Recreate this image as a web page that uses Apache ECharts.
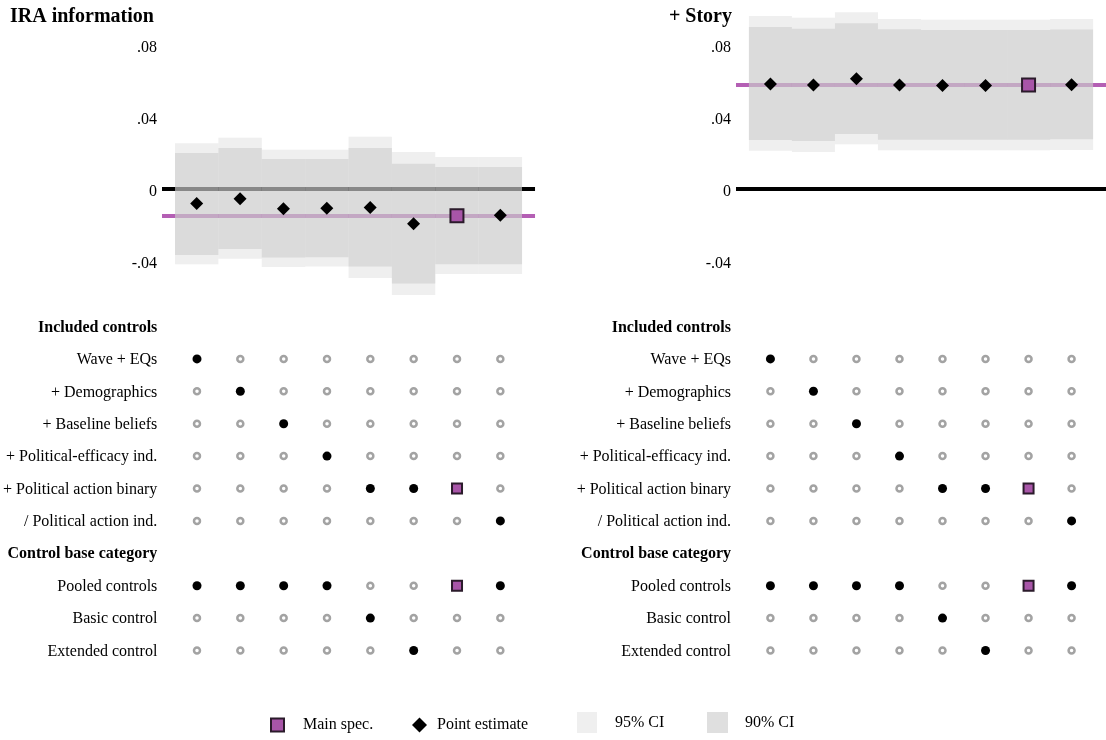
<!DOCTYPE html>
<html><head><meta charset="utf-8">
<script src="https://cdn.jsdelivr.net/npm/echarts@6/dist/echarts.min.js"></script>
<style>html,body{margin:0;padding:0;background:#fff}#c{width:1106px;height:740px}</style>
</head><body><div id="c"></div>
<script>
// ---------- DATA ----------
const panelTitles = ['IRA information', '+ Story'];
const specIndex = [0, 1, 2, 3, 4, 5, 6, 7];
const mainSpec = 6;

const estIRA   = [-0.0081, -0.0054, -0.0109, -0.0107, -0.0103, -0.0192, -0.0148, -0.0146];
const ci95loIRA = [-0.0417, -0.0386, -0.0432, -0.0430, -0.0493, -0.0587, -0.0471, -0.0471];
const ci90loIRA = [-0.0366, -0.0332, -0.0380, -0.0378, -0.0430, -0.0523, -0.0417, -0.0417];
const ci90hiIRA = [0.0199, 0.0227, 0.0166, 0.0166, 0.0227, 0.0140, 0.0122, 0.0122];
const ci95hiIRA = [0.0253, 0.0284, 0.0218, 0.0218, 0.0290, 0.0205, 0.0177, 0.0177];

const estStory   = [0.0582, 0.0576, 0.0611, 0.0576, 0.0574, 0.0574, 0.0576, 0.0578];
const ci95loStory = [0.0212, 0.0205, 0.0248, 0.0214, 0.0214, 0.0214, 0.0214, 0.0216];
const ci90loStory = [0.0271, 0.0266, 0.0305, 0.0273, 0.0273, 0.0273, 0.0273, 0.0275];
const ci90hiStory = [0.0898, 0.0888, 0.0918, 0.0885, 0.0881, 0.0881, 0.0881, 0.0883];
const ci95hiStory = [0.0958, 0.0949, 0.0979, 0.0942, 0.0938, 0.0938, 0.0938, 0.0942];

const yTickValues = [0.08, 0.04, 0, -0.04];
const yTickLabels = ['.08', '.04', '0', '-.04'];

const headerControls = 'Included controls';
const controlRows = ['Wave + EQs', '+ Demographics', '+ Baseline beliefs', '+ Political-efficacy ind.', '+ Political action binary', '/ Political action ind.'];
const headerBase = 'Control base category';
const baseRows = ['Pooled controls', 'Basic control', 'Extended control'];
// which "included controls" row is marked for each specification
const specControlRow = [0, 1, 2, 3, 4, 4, 4, 5];
// which "control base category" row is marked for each specification
const specBaseRow = [0, 0, 0, 0, 1, 2, 0, 0];

const legendNames = ['Main spec.', 'Point estimate', '95% CI', '90% CI'];

// ---------- BUILD ----------
const FONT = 'Liberation Serif, Times New Roman, serif';
const panels = [
  {est: estIRA, lo95: ci95loIRA, lo90: ci90loIRA, hi90: ci90hiIRA, hi95: ci95hiIRA},
  {est: estStory, lo95: ci95loStory, lo90: ci90loStory, hi90: ci90hiStory, hi95: ci95hiStory}
];
const gridLefts = [162, 736];
const colW = 43.375;
const gridW = 8.6 * colW;
const X_MIN = -0.8, X_MAX = 7.8;

const rows = [headerControls].concat(controlRows, [headerBase], baseRows);
const controlOffset = 1, baseOffset = controlRows.length + 2;

const grids = [], xAxes = [], yAxes = [], series = [];

function bandRenderer(fill) {
  return function (params, api) {
    const x = api.value(0), lo = api.value(1), hi = api.value(2);
    const p1 = api.coord([x - 0.5, hi]);
    const p2 = api.coord([x + 0.5, lo]);
    return {type: 'rect', shape: {x: p1[0], y: p1[1], width: p2[0] - p1[0], height: p2[1] - p1[1]}, style: {fill: fill}};
  };
}

panels.forEach((pd, p) => {
  grids.push({left: gridLefts[p], top: 8.5, width: gridW, height: 288.8});
  xAxes.push({type: 'value', gridIndex: p, min: X_MIN, max: X_MAX, show: false});
  yAxes.push({
    type: 'value', gridIndex: p, min: -0.06, max: 0.1, interval: 0.02,
    axisLine: {show: false}, axisTick: {show: false}, splitLine: {show: false},
    axisLabel: {
      margin: 5, fontSize: 16, fontFamily: FONT, color: '#000',
      verticalAlign: 'top', lineHeight: 6,
      formatter: v => {
        const k = yTickValues.findIndex(t => Math.abs(t - v) < 1e-9);
        return k >= 0 ? yTickLabels[k] : '';
      }
    }
  });
  const mainVal = pd.est[mainSpec];
  series.push({
    type: 'line', name: 'ref' + p, xAxisIndex: p, yAxisIndex: p, data: [], z: 1, silent: true,
    markLine: {
      z: 1, silent: true, symbol: 'none', label: {show: false}, animation: false, precision: 6,
      data: [
        {yAxis: 0, lineStyle: {color: '#000', width: 4, type: 'solid'}},
        {yAxis: mainVal, lineStyle: {color: '#b45fb4', width: 4, type: 'solid'}}
      ]
    }
  });
  series.push({
    type: 'custom', name: '95% CI', xAxisIndex: p, yAxisIndex: p, z: 10, silent: true,
    renderItem: bandRenderer('rgba(203,203,203,0.308)'),
    encode: {x: 0, y: [1, 2]},
    itemStyle: {color: '#efefef'},
    data: specIndex.map(i => [i, pd.lo95[i], pd.hi95[i]])
  });
  series.push({
    type: 'custom', name: '90% CI', xAxisIndex: p, yAxisIndex: p, z: 11, silent: true,
    renderItem: bandRenderer('rgba(203,203,203,0.528)'),
    encode: {x: 0, y: [1, 2]},
    itemStyle: {color: '#dedede'},
    data: specIndex.map(i => [i, pd.lo90[i], pd.hi90[i]])
  });
});

// main spec squares first (legend takes style from first series with the name)
panels.forEach((pd, p) => {
  series.push({
    type: 'scatter', name: 'Main spec.', xAxisIndex: p, yAxisIndex: p, z: 21,
    symbol: 'rect', symbolSize: 13,
    itemStyle: {color: '#a855a8', borderColor: '#2b1b2b', borderWidth: 2, opacity: 1},
    data: [[mainSpec, pd.est[mainSpec]]]
  });
  series.push({
    type: 'scatter', name: 'Point estimate', xAxisIndex: p, yAxisIndex: p, z: 20,
    symbol: 'diamond', symbolSize: 13,
    itemStyle: {color: '#000', opacity: 1},
    data: specIndex.filter(i => i !== mainSpec).map(i => [i, pd.est[i]])
  });
});

// specification matrix
[0, 1].forEach(p => {
  const g = 2 + p;
  grids.push({left: gridLefts[p], top: 310.3, width: gridW, height: 356.4});
  xAxes.push({type: 'value', gridIndex: g, min: X_MIN, max: X_MAX, show: false});
  yAxes.push({
    type: 'category', gridIndex: g, data: rows, inverse: true,
    axisLine: {show: false}, axisTick: {show: false}, splitLine: {show: false},
    axisLabel: {
      margin: 5, fontSize: 16, fontFamily: FONT, color: '#000', interval: 0, padding: [2, 0, 0, 0],
      formatter: v => (v === headerControls || v === headerBase) ? '{b|' + v + '}' : v,
      rich: {b: {fontWeight: 'bold', fontSize: 16, fontFamily: FONT, color: '#000'}}
    }
  });
  const off = [], on = [], main = [];
  specIndex.forEach(i => {
    controlRows.forEach((r, k) => {
      const pt = [i, k + controlOffset];
      if (k === specControlRow[i]) (i === mainSpec ? main : on).push(pt); else off.push(pt);
    });
    baseRows.forEach((r, k) => {
      const pt = [i, k + baseOffset];
      if (k === specBaseRow[i]) (i === mainSpec ? main : on).push(pt); else off.push(pt);
    });
  });
  series.push({
    type: 'scatter', name: 'off' + p, xAxisIndex: g, yAxisIndex: g, symbol: 'circle', symbolSize: 6,
    itemStyle: {color: '#fff', borderColor: '#a3a3a3', borderWidth: 2.5, opacity: 1}, data: off
  });
  series.push({
    type: 'scatter', name: 'on' + p, xAxisIndex: g, yAxisIndex: g, symbol: 'circle', symbolSize: 9,
    itemStyle: {color: '#000', opacity: 1}, data: on
  });
  series.push({
    type: 'scatter', name: 'Main spec.', xAxisIndex: g, yAxisIndex: g, symbol: 'rect', symbolSize: 10,
    itemStyle: {color: '#a855a8', borderColor: '#2b1b2b', borderWidth: 2, opacity: 1}, data: main
  });
});

const legendCfg = [
  {left: 270, top: 717, w: 13, h: 13, icon: 'rect', pad: 14, pt: 7},
  {left: 412, top: 717, w: 15, h: 15, icon: 'diamond', pad: 5, pt: 7},
  {left: 577, top: 712, w: 20, h: 21, icon: 'rect', pad: 13, pt: 11, color: '#efefef'},
  {left: 707, top: 712, w: 21, h: 21, icon: 'rect', pad: 12, pt: 11, color: '#dfdfdf'}
];
const legends = legendNames.map((n, k) => {
  const c = legendCfg[k];
  const item = {name: n, icon: c.icon};
  if (c.color) item.itemStyle = {color: c.color, opacity: 1, borderWidth: 0};
  return {
    left: c.left, top: c.top, itemWidth: c.w, itemHeight: c.h, selectedMode: false,
    data: [item], padding: 0,
    textStyle: {fontSize: 16, fontFamily: FONT, color: '#000', padding: [c.pt, 0, 0, c.pad]}
  };
});

const option = {
  animation: false,
  backgroundColor: '#fff',
  title: [
    {text: panelTitles[0], left: 10, top: 7, padding: 0, textStyle: {fontSize: 20, fontWeight: 'bold', fontFamily: FONT, color: '#000'}},
    {text: panelTitles[1], right: 374, top: 7, padding: 0, textStyle: {fontSize: 20, fontWeight: 'bold', fontFamily: FONT, color: '#000'}}
  ],
  legend: legends,
  grid: grids,
  xAxis: xAxes,
  yAxis: yAxes,
  series: series
};

const chart = echarts.init(document.getElementById('c'), null, {renderer: 'canvas'});
chart.setOption(option);
</script>
</body></html>
